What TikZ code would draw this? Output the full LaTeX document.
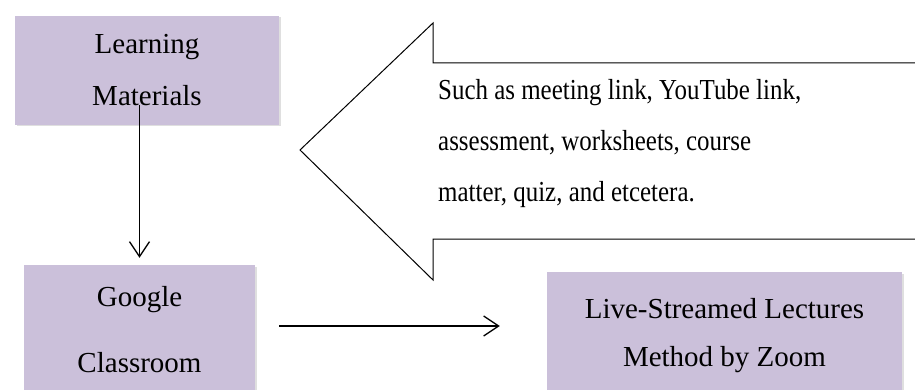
\documentclass[tikz,border=0pt]{standalone}
\usepackage{fontspec}
\setmainfont{Liberation Serif}
\newfontfamily\narrowserif[FakeStretch=0.86]{Liberation Serif}
\usetikzlibrary{positioning,calc,arrows.meta,shadows}
\definecolor{boxlav}{RGB}{203,192,218}
\tikzset{font=\fontsize{29}{52}\selectfont}
\tikzset{
	box/.style={fill=boxlav, draw=none, align=center, inner sep=0pt,
		drop shadow={shadow xshift=1.5pt, shadow yshift=-1.5pt, opacity=0.25}},
	arr/.style={-{Straight Barb[length=15pt,width=20pt]}, line width=1.3pt}
}

\begin{document}
\begin{tikzpicture}[x=1pt,y=-1pt]
	\useasboundingbox (0,0) rectangle (915,390);
	\clip (0,0) rectangle (915,390);

	% block arrow pointing left
	\draw [line width=1pt] (300,150) -- (433,23) -- (433,63) -- (930,63)
		-- (930,239) -- (433,239) -- (433,280) -- cycle;
	\node [anchor=west, align=left, inner sep=0pt, font=\narrowserif\fontsize{29}{51}\selectfont] (note) at (438,144)
		{Such as meeting link, YouTube link,\\assessment, worksheets, course\\matter, quiz, and etcetera.};

	\node [box, minimum width=264pt, minimum height=109pt] (lm) at (147,70.5) {Learning\\Materials};
	\node [box, minimum width=231pt, minimum height=130pt] (gc) at (139.5,330) {Google\\[14pt]Classroom};
	\node [box, minimum width=355pt, minimum height=128pt] (lsl) at (724.5,336) {Live-Streamed Lectures\\[-4pt]Method by Zoom};

	\draw [arr] ([yshift=20pt]lm.south -| gc.north) to ([yshift=7pt]gc.north);
	\draw [arr] ([xshift=24pt,yshift=4pt]gc.east) to ([xshift=-47pt,yshift=10pt]lsl.west);
\end{tikzpicture}
\end{document}
